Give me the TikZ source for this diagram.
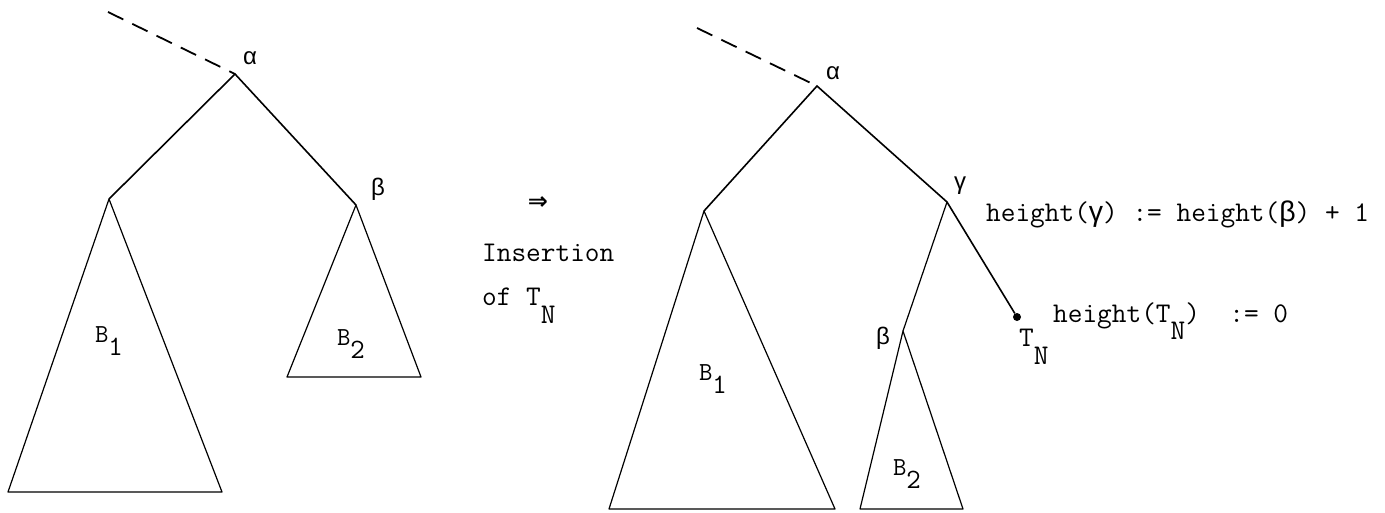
\documentclass[tikz,border=0pt]{standalone}
\usepackage{fontspec}
\newfontfamily\gfont{Liberation Sans}
\newfontfamily\symfont{DejaVu Sans}
\newcommand{\mysub}[1]{\raisebox{-0.62em}{#1}}
\newcommand{\bsub}[1]{B\raisebox{-13pt}{\fontsize{28}{28}\selectfont #1}}
\begin{document}
\begin{tikzpicture}[x=1pt,y=-1pt,
  vtx/.style={coordinate},
  edge/.style={line width=1.6pt},
  tri/.style={line width=1.2pt, line join=round},
  dashedge/.style={line width=1.8pt, dash pattern=on 17pt off 10pt},
  glabel/.style={font=\gfont\fontsize{24}{24}\selectfont, inner sep=0pt},
  mtext/.style={font=\ttfamily\fontsize{28.5}{28.5}\selectfont, inner sep=0pt, anchor=west},
  blabel/.style={font=\ttfamily\fontsize{26}{26}\selectfont, inner sep=0pt}]
\useasboundingbox (0,0) rectangle (1385,512);
% ---------- left tree ----------
\node[vtx] (d1) at (108,12) {};
\node[vtx] (a1) at (235,74) {};
\node[vtx] (l1) at (109,199) {};
\node[vtx] (b1) at (356,205) {};
\node[vtx] (l1bl) at (8,492) {};
\node[vtx] (l1br) at (222,492) {};
\node[vtx] (b1bl) at (287,377) {};
\node[vtx] (b1br) at (421,377) {};
\draw[dashedge] (d1) -- (a1);
\draw[edge] (l1) -- (a1) -- (b1);
\draw[tri] (l1) -- (l1bl) -- (l1br) -- cycle;
\draw[tri] (b1) -- (b1bl) -- (b1br) -- cycle;
\node[glabel] (la1) at (250,58) {α};
\node[glabel] (lb1) at (378,189) {β};
\node[blabel] (B11) at (109,341) {\bsub{1}};
\node[blabel] (B21) at (351,344) {\bsub{2}};
% ---------- middle ----------
\node[font=\symfont\bfseries\fontsize{24}{24}\selectfont, inner sep=0pt] (arr) at (538,203) {⇒};
\node[mtext] (ins) at (482,253) {Insertion};
\node[mtext] (of) at (482,306) {of T\mysub{N}};
% ---------- right tree ----------
\node[vtx] (d2) at (697,28) {};
\node[vtx] (a2) at (817,86) {};
\node[vtx] (l2) at (704,211) {};
\node[vtx] (g2) at (947,202) {};
\node[vtx] (b2) at (903,331) {};
\node[vtx] (l2bl) at (609,509) {};
\node[vtx] (l2br) at (835,509) {};
\node[vtx] (b2bl) at (860,509) {};
\node[vtx] (b2br) at (963,509) {};
\node[circle, fill=black, inner sep=0pt, minimum size=8pt] (tn) at (1017,317) {};
\draw[dashedge] (d2) -- (a2);
\draw[edge] (l2) -- (a2) -- (g2) -- (tn);
\draw[tri] (g2) -- (b2);
\draw[tri] (l2) -- (l2bl) -- (l2br) -- cycle;
\draw[tri] (b2) -- (b2bl) -- (b2br) -- cycle;
\node[glabel] (la2) at (833,73) {α};
\node[glabel] (lg2) at (960,186) {γ};
\node[glabel] (lb2) at (883,338) {β};
\node[blabel] (B12) at (713,379) {\bsub{1}};
\node[blabel] (B22) at (907,474) {\bsub{2}};
\node[mtext] (hg) at (986,214) {height({\gfont γ}) := height({\gfont β}) + 1};
\node[mtext] (tnl) at (1019,347) {T\mysub{N}};
\node[mtext] (ht) at (1053,321) {height(T\mysub{N})~~:= 0};
\end{tikzpicture}
\end{document}
